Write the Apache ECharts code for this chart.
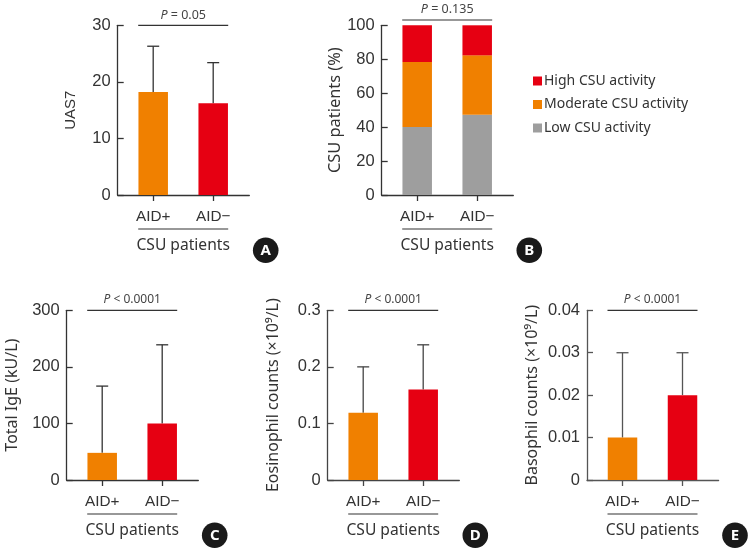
<!DOCTYPE html>
<html>
<head>
<meta charset="utf-8">
<style>
  html, body { margin: 0; padding: 0; background: #fff; }
  #chart { width: 749px; height: 549px; }
</style>
<script src="https://cdn.jsdelivr.net/npm/echarts@6/dist/echarts.min.js"></script>
</head>
<body>
<div id="chart"></div>
<script>
// data
const categories = ["AID+", "AID\u2212"];
const uas7Mean = [18.2, 16.2];
const uas7Top = [26.3, 23.4];
const lowActivity = [40, 47.3];
const moderateActivity = [38.4, 35];
const highActivity = [21.6, 17.7];
const igeMean = [48, 100];
const igeTop = [166, 239];
const eosinophilMean = [0.119, 0.16];
const eosinophilTop = [0.2, 0.239];
const basophilMean = [0.01, 0.02];
const basophilTop = [0.03, 0.03];

const ORANGE = "#f08000";
const RED = "#e60012";
const GREY = "#9e9e9e";
const ARIAL = "Liberation Sans";
const SANS = "Noto Sans";

// one entry per panel: where it sits and what is on its y axis
const panels = [
  { tag: "A", left: 117.7, top: 25.3, name: "UAS7", nameFont: ARIAL, nameSize: 15, nameGap: 39, max: 30, step: 10, p: "= 0.05", pSize: 12.5, pY: 15, lineY: 25.3, badge: [265.7, 250.3], ink: "#333" },
  { tag: "B", left: 381.7, top: 25.3, name: "CSU patients (%)", nameFont: SANS, nameSize: 16.4, nameGap: 37, max: 100, step: 20, p: "= 0.135", pSize: 12.5, pY: 9, lineY: 20, badge: [529.3, 250.3], ink: "#333" },
  { tag: "C", left: 66.7, top: 310.3, name: "Total IgE (kU/L)", nameFont: SANS, nameSize: 16, nameGap: 46, max: 300, step: 100, p: "< 0.0001", pSize: 12, pY: 299.7, lineY: 310.3, badge: [214.7, 535.3], ink: "#333" },
  { tag: "D", left: 327.7, top: 310.3, name: "Eosinophil counts (\u00d710\u2079/L)", nameFont: SANS, nameSize: 16, nameGap: 46, max: 0.3, step: 0.1, p: "< 0.0001", pSize: 12, pY: 299.7, lineY: 310.3, badge: [475.3, 535.3], ink: "#444" },
  { tag: "E", left: 587, top: 310.3, name: "Basophil counts (\u00d710\u2079/L)", nameFont: SANS, nameSize: 16, nameGap: 47, max: 0.04, step: 0.01, p: "< 0.0001", pSize: 12, pY: 299.7, lineY: 310.3, badge: [735, 535.3], ink: "#555" }
];

const GRID_W = 131.6;
const GRID_H = 169.7;
const BAND = 60; // px between the two bars
const FIRST = 35.5; // px from y axis to first bar
const BAR_W = 29.5;

const grid = panels.map(p => ({ left: p.left, top: p.top, width: GRID_W, height: GRID_H }));

const xAxis = panels.map((p, i) => ({
  type: "value",
  gridIndex: i,
  min: -FIRST / BAND,
  max: (GRID_W - FIRST) / BAND,
  splitLine: { show: false },
  axisLine: { show: true, lineStyle: { color: p.ink, width: 1.3 } },
  axisTick: { show: true, length: 6, customValues: [0, 1], lineStyle: { color: p.ink, width: 1.3 } },
  axisLabel: {
    show: true,
    customValues: [0, 1],
    margin: 14,
    fontFamily: ARIAL,
    fontSize: 15.3,
    color: "#333",
    formatter: v => categories[v]
  }
}));

const yAxis = panels.map((p, i) => ({
  type: "value",
  gridIndex: i,
  min: 0,
  max: p.max,
  interval: p.step,
  name: p.name,
  nameLocation: "middle",
  nameGap: p.nameGap,
  nameTextStyle: { fontFamily: p.nameFont, fontSize: p.nameSize, color: "#333" },
  splitLine: { show: false },
  axisLine: { show: true, onZero: false, lineStyle: { color: p.ink, width: 1.3 } },
  axisTick: { show: true, inside: true, length: 6, lineStyle: { color: p.ink, width: 1.3 } },
  axisLabel: { margin: 7, fontFamily: ARIAL, fontSize: 16.5, color: "#333" }
}));

function meanBars(idx, values) {
  return {
    type: "bar",
    xAxisIndex: idx,
    yAxisIndex: idx,
    barWidth: BAR_W,
    z: 3,
    data: values.map((v, i) => ({
      value: [i, v],
      itemStyle: { color: i === 0 ? ORANGE : RED }
    }))
  };
}

// upper whisker only, as in the figure
function whiskers(idx, means, tops, ink) {
  return {
    type: "custom",
    xAxisIndex: idx,
    yAxisIndex: idx,
    z: 2,
    data: tops.map((t, i) => [i, means[i], t]),
    renderItem: (params, api) => {
      const a = api.coord([api.value(0), api.value(1)]);
      const b = api.coord([api.value(0), api.value(2)]);
      const style = { stroke: ink, lineWidth: 1.3, fill: null };
      return {
        type: "group",
        children: [
          { type: "line", shape: { x1: a[0], y1: a[1], x2: b[0], y2: b[1] }, style },
          { type: "line", shape: { x1: b[0] - 6, y1: b[1], x2: b[0] + 6, y2: b[1] }, style }
        ]
      };
    }
  };
}

// stack option does not stack over a value x axis, so the segments carry their own base
function segment(name, values, bases, color) {
  return {
    type: "custom",
    name,
    xAxisIndex: 1,
    yAxisIndex: 1,
    itemStyle: { color },
    data: values.map((v, i) => [i, bases[i], bases[i] + v]),
    renderItem: (params, api) => {
      const a = api.coord([api.value(0), api.value(1)]);
      const b = api.coord([api.value(0), api.value(2)]);
      return {
        type: "rect",
        shape: { x: a[0] - BAR_W / 2, y: b[1], width: BAR_W, height: a[1] - b[1] },
        style: { fill: color }
      };
    }
  };
}

const lowBase = categories.map(() => 0);
const moderateBase = lowActivity.slice();
const highBase = lowActivity.map((v, i) => v + moderateActivity[i]);

const series = [
  meanBars(0, uas7Mean),
  whiskers(0, uas7Mean, uas7Top, panels[0].ink),
  segment("Low CSU activity", lowActivity, lowBase, GREY),
  segment("Moderate CSU activity", moderateActivity, moderateBase, ORANGE),
  segment("High CSU activity", highActivity, highBase, RED),
  meanBars(2, igeMean),
  whiskers(2, igeMean, igeTop, panels[2].ink),
  meanBars(3, eosinophilMean),
  whiskers(3, eosinophilMean, eosinophilTop, panels[3].ink),
  meanBars(4, basophilMean),
  whiskers(4, basophilMean, basophilTop, panels[4].ink)
];

// brackets, p values, "CSU patients" captions and the lettered badges
const graphic = [];
panels.forEach(p => {
  const x1 = p.left + FIRST - 15;
  const x2 = p.left + FIRST + BAND + 15;
  const mid = (x1 + x2) / 2;
  const bottom = p.top + GRID_H;
  graphic.push(
    { type: "line", shape: { x1, y1: p.lineY, x2, y2: p.lineY }, style: { stroke: "#333", lineWidth: 1.2 } },
    { type: "line", shape: { x1, y1: bottom + 34, x2, y2: bottom + 34 }, style: { stroke: "#333", lineWidth: 1.2 } },
    {
      type: "text",
      x: mid,
      y: p.pY,
      style: {
        text: "{i|P} " + p.p,
        align: "center",
        verticalAlign: "middle",
        fill: "#444",
        fontFamily: SANS,
        fontSize: p.pSize,
        rich: { i: { fontStyle: "italic", fontFamily: SANS, fontSize: p.pSize, fill: "#444" } }
      }
    },
    {
      type: "text",
      x: mid,
      y: bottom + 50.5,
      style: { text: "CSU patients", align: "center", verticalAlign: "middle", fill: "#333", fontFamily: SANS, fontSize: 15.6 }
    },
    { type: "circle", shape: { cx: p.badge[0], cy: p.badge[1], r: 12.8 }, style: { fill: "#1a1a1a" } },
    {
      type: "text",
      x: p.badge[0],
      y: p.badge[1],
      style: { text: p.tag, align: "center", verticalAlign: "middle", fill: "#fff", fontFamily: SANS, fontWeight: "bold", fontSize: 15 }
    }
  );
});

const option = {
  animation: false,
  backgroundColor: "#fff",
  grid,
  xAxis,
  yAxis,
  series,
  graphic,
  legend: {
    orient: "vertical",
    left: 528,
    top: 69,
    itemWidth: 9,
    itemHeight: 9,
    itemGap: 9.5,
    icon: "rect",
    data: ["High CSU activity", "Moderate CSU activity", "Low CSU activity"],
    textStyle: { fontFamily: SANS, fontSize: 14, color: "#333", padding: [0, 0, 0, -3] }
  }
};

const myChart = echarts.init(document.getElementById("chart"));
myChart.setOption(option);
</script>
</body>
</html>
